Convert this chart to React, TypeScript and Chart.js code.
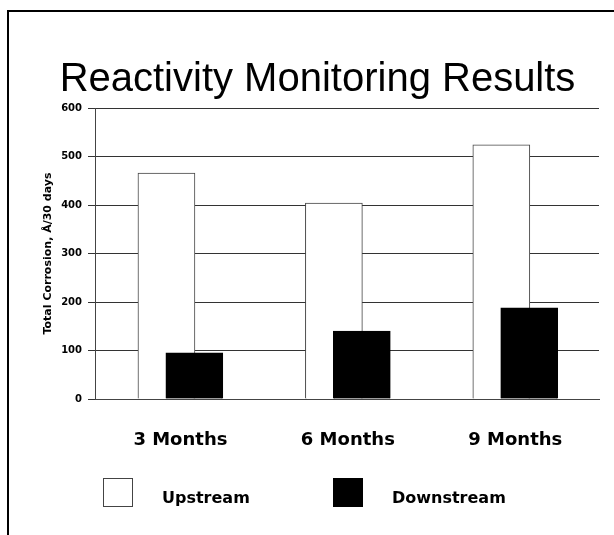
import React, { useEffect, useRef } from 'react';
import { Chart, registerables } from 'chart.js';

Chart.register(...registerables);

// ---- data ----
const categories = ['3 Months', '6 Months', '9 Months'];
const seriesNames = ['Upstream', 'Downstream'];
const upstreamValues = [466, 404, 524];
const downstreamValues = [95, 140, 188];
const yMin = 0;
const yMax = 600;
const yStep = 100;
const chartTitle = 'Reactivity Monitoring Results';
const yAxisTitle = 'Total Corrosion, Å/30 days';

// ---- styles ----
const BOLD_FAMILY = "'DejaVu Sans', sans-serif";
const TITLE_FAMILY = "'Liberation Sans', Arial, sans-serif";
const SHIFT = 1 / 12; // horizontal overlap shift of the two series inside a category

const framePlugin = {
  id: 'frame',
  beforeDraw(chart: any) {
    const ctx = chart.ctx;
    ctx.save();
    ctx.fillStyle = '#ffffff';
    ctx.fillRect(0, 0, chart.width, chart.height);
    ctx.fillStyle = '#000000';
    ctx.fillRect(7, 10, 2, chart.height - 10);
    ctx.fillRect(7, 10, chart.width - 7, 2);
    ctx.restore();
  },
};

const boxLegendPlugin = {
  id: 'boxLegend',
  afterDraw(chart: any) {
    const { ctx, chartArea } = chart;
    const offsets = [8, 238];
    chart.data.datasets.forEach((ds: any, i: number) => {
      const x = chartArea.left + offsets[i];
      const y = chartArea.bottom + 79;
      ctx.save();
      ctx.fillStyle = ds.backgroundColor;
      ctx.fillRect(x, y, 30, 29);
      ctx.strokeStyle = ds.borderColor;
      ctx.lineWidth = 1;
      ctx.strokeRect(x + 0.5, y + 0.5, 29, 28);
      ctx.fillStyle = '#000000';
      ctx.font = `bold 16px ${BOLD_FAMILY}`;
      ctx.textBaseline = 'alphabetic';
      ctx.textAlign = 'left';
      ctx.fillText(ds.label, x + 59, y + 25);
      ctx.restore();
    });
  },
};

export default function App() {
  const ref = useRef<HTMLCanvasElement>(null);

  useEffect(() => {
    const canvas = ref.current;
    if (!canvas) return;
    const chart = new Chart(canvas, {
      type: 'bar',
      data: {
        datasets: [
          {
            label: seriesNames[0],
            data: upstreamValues.map((v, i) => ({ x: i + 1 - SHIFT, y: v })),
            backgroundColor: '#ffffff',
            borderColor: '#444444',
            borderWidth: 1,
            grouped: false,
            barThickness: 57,
            order: 2,
          },
          {
            label: seriesNames[1],
            data: downstreamValues.map((v, i) => ({ x: i + 1 + SHIFT, y: v })),
            backgroundColor: '#000000',
            borderColor: '#000000',
            borderWidth: 1,
            grouped: false,
            barThickness: 57,
            order: 1,
          },
        ],
      } as any,
      options: {
        responsive: false,
        animation: false,
        devicePixelRatio: 1,
        layout: { padding: { left: 36, right: 15, top: 0, bottom: 0 } },
        plugins: {
          legend: { display: false },
          tooltip: { enabled: false },
          title: {
            display: true,
            text: chartTitle,
            color: '#000000',
            font: { family: TITLE_FAMILY, size: 40, weight: 'normal' },
            padding: { top: 56, bottom: 4 },
          },
        },
        scales: {
          x: {
            type: 'linear',
            offset: false,
            min: 0.49,
            max: 3.5,
            afterBuildTicks: (s: any) => {
              s.ticks = categories.map((_, i) => ({ value: i + 1 }));
            },
            afterFit: (s: any) => {
              s.height = 136;
            },
            grid: { display: false, drawTicks: false, offset: false },
            border: { display: true, color: '#444444', width: 1 },
            ticks: {
              autoSkip: false,
              maxRotation: 0,
              padding: 31,
              color: '#000000',
              font: { family: BOLD_FAMILY, size: 18, weight: 'bold' },
              callback: (v: any) => categories[Math.round(Number(v)) - 1] ?? '',
            },
          },
          y: {
            min: yMin,
            max: yMax,
            afterFit: (s: any) => {
              s.width = 59;
            },
            grid: { color: '#333333', lineWidth: 1, drawTicks: true, tickLength: 7, tickColor: '#333333' },
            border: { display: true, color: '#444444', width: 1 },
            ticks: {
              stepSize: yStep,
              padding: 6,
              color: '#000000',
              font: { family: BOLD_FAMILY, size: 10, weight: 'bold' },
            },
            title: {
              display: true,
              text: yAxisTitle,
              color: '#000000',
              font: { family: BOLD_FAMILY, size: 11, weight: 'bold' },
              padding: { top: 6, bottom: 0 },
            },
          },
        },
      } as any,
      plugins: [framePlugin, boxLegendPlugin],
    });
    return () => chart.destroy();
  }, []);

  return (
    <div style={{ position: 'absolute', left: 0, top: 0, width: 614, height: 535 }}>
      <canvas ref={ref} width={614} height={535} style={{ display: 'block', width: 614, height: 535 }} />
    </div>
  );
}
